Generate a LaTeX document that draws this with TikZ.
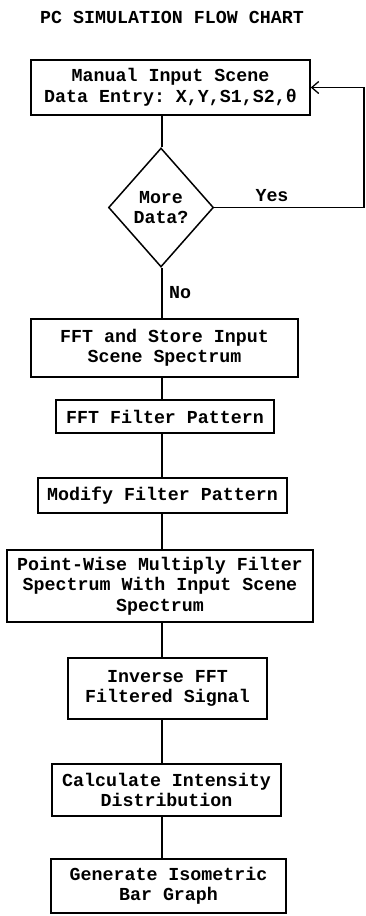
\documentclass[tikz,border=0pt]{standalone}
\usepackage{fontspec}
\setmonofont{Liberation Mono}
\usetikzlibrary{shapes.geometric,arrows.meta}
\tikzset{
  box/.style={draw, line width=1.5pt, rectangle, inner sep=0pt, align=center,
    font=\ttfamily\bfseries\fontsize{18.3}{20.5}\selectfont},
  decision/.style={draw, line width=1.5pt, diamond, inner sep=0pt, align=center,
    font=\ttfamily\bfseries\fontsize{18.3}{20.5}\selectfont},
  lbl/.style={font=\ttfamily\bfseries\fontsize{18.3}{20.5}\selectfont, inner sep=0pt},
  conn/.style={line width=1.5pt},
}
\begin{document}
\begin{tikzpicture}[x=1pt,y=-1pt]
\useasboundingbox (0,0) rectangle (366,916);
\node[lbl] (title) at (172,17) {PC SIMULATION FLOW CHART};
\coordinate (spine) at (162,0);
\coordinate (rx) at (364,0);
\node[box, minimum width=279pt, minimum height=55pt] (b1) at (170.5,87.5) {Manual Input Scene\\Data Entry: X,Y,S1,S2,θ};
\node[decision, minimum width=105pt, minimum height=119pt] (d) at (161,207.5) {More\\Data?};
\node[box, minimum width=267pt, minimum height=58pt] (b2) at (164.5,348) {FFT and Store Input\\Scene Spectrum};
\node[box, minimum width=218pt, minimum height=33pt] (b3) at (165,416.5) {FFT Filter Pattern};
\node[box, minimum width=249pt, minimum height=35pt] (b4) at (162.5,495.5) {Modify Filter Pattern};
\node[box, minimum width=306pt, minimum height=72pt] (b5) at (160,586) {Point-Wise Multiply Filter\\Spectrum With Input Scene\\Spectrum};
\node[box, minimum width=199pt, minimum height=61pt] (b6) at (167.5,688.5) {Inverse FFT\\Filtered Signal};
\node[box, minimum width=229pt, minimum height=52pt] (b7) at (166.5,790) {Calculate Intensity\\Distribution};
\node[box, minimum width=235pt, minimum height=54pt] (b8) at (168.5,886) {Generate Isometric\\Bar Graph};
\node[lbl] (yes) at (272,196) {Yes};
\node[lbl] (no) at (180,293) {No};
\draw[conn] (b1.south -| spine) -- (d.north -| spine);
\draw[conn] (d.south -| spine) -- (b2.north -| spine);
\draw[conn] (b2.south -| spine) -- (b3.north -| spine);
\draw[conn] (b3.south -| spine) -- (b4.north -| spine);
\draw[conn] (b4.south -| spine) -- (b5.north -| spine);
\draw[conn] (b5.south -| spine) -- (b6.north -| spine);
\draw[conn] (b6.south -| spine) -- (b7.north -| spine);
\draw[conn] (b7.south -| spine) -- (b8.north -| spine);
\draw[conn, -{Straight Barb[length=7pt,width=12pt,line width=1.3pt]}] (d.east) -- (d.east -| rx) -- (b1.east -| rx) -- (b1.east);
\end{tikzpicture}
\end{document}
